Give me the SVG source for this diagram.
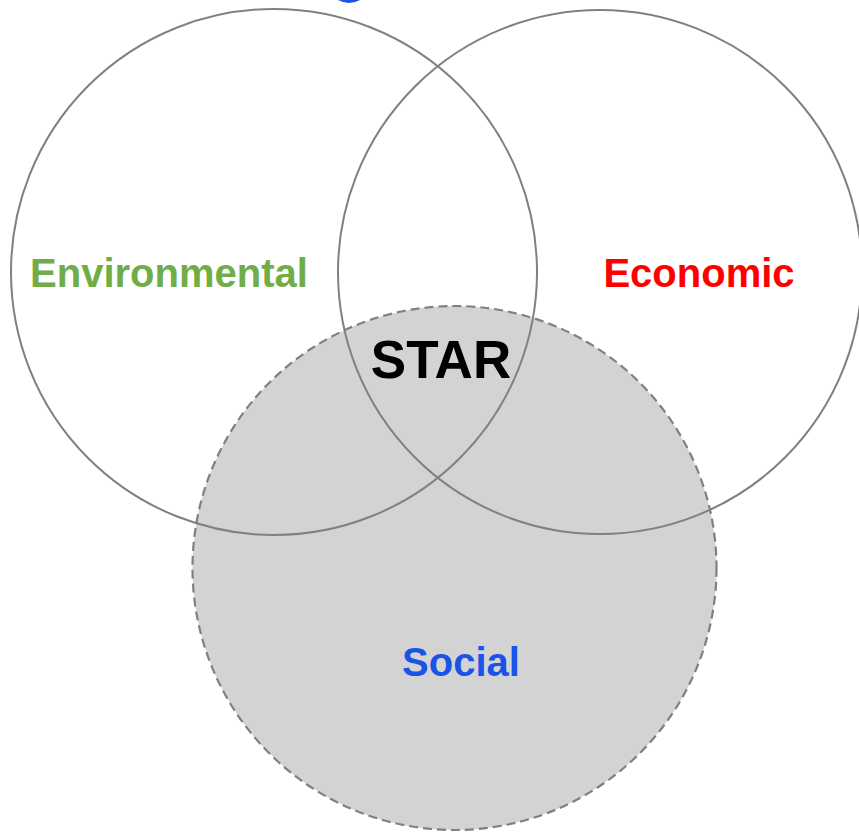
<svg xmlns="http://www.w3.org/2000/svg" width="859" height="832" viewBox="0 0 859 832">
  <style>
    .ring { fill: none; stroke: #808080; stroke-width: 2; }
    .social { fill: #d3d3d3; stroke: #808080; stroke-width: 2.2; stroke-dasharray: 9 5; }
    .lbl { font-family: "Liberation Sans", Arial, sans-serif; font-weight: bold; text-anchor: middle; }
  </style>
  <rect width="859" height="832" fill="#ffffff"/>
  <!-- fragment of the heading above the frame -->
  <path d="M338,0 Q349,6 360,0 Z" fill="#1a53e8"/>
  <g id="social">
    <circle class="social" cx="454.5" cy="568" r="262"/>
    <text class="lbl" x="461" y="676" font-size="40" fill="#1a53e8">Social</text>
  </g>
  <g id="environmental">
    <circle class="ring" cx="274" cy="272" r="263"/>
    <text class="lbl" x="169" y="287" font-size="40" fill="#70ad47">Environmental</text>
  </g>
  <g id="economic">
    <circle class="ring" cx="600" cy="272" r="262"/>
    <text class="lbl" x="699" y="287" font-size="40" fill="#ff0000">Economic</text>
  </g>
  <g id="star">
    <text class="lbl" x="441" y="378" font-size="53" fill="#000000">STAR</text>
  </g>
</svg>
